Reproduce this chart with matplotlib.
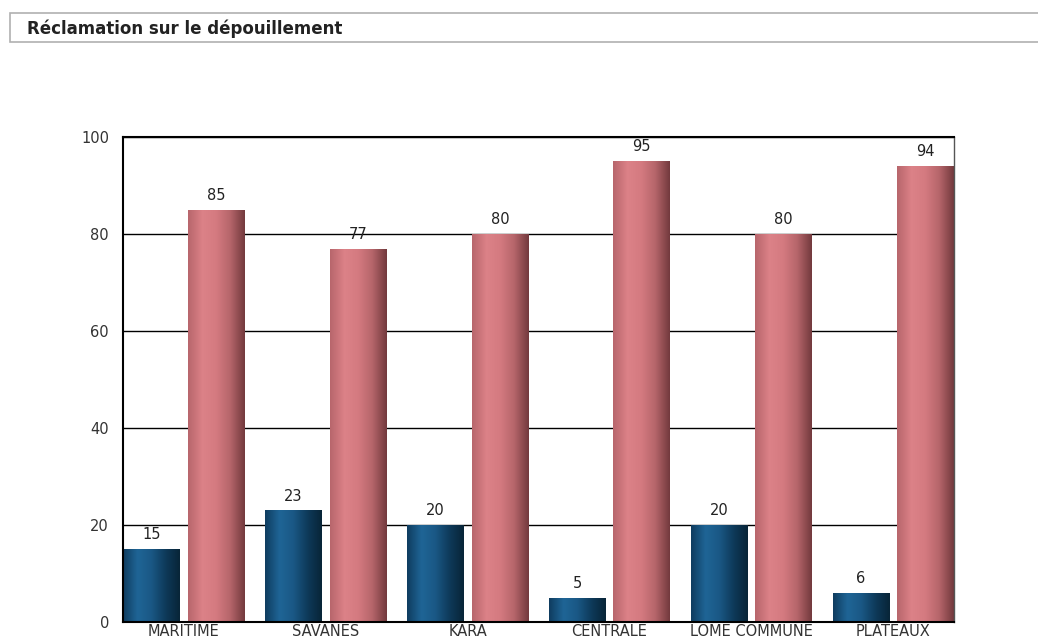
import numpy as np
import matplotlib
matplotlib.use('Agg')
import matplotlib.pyplot as plt
from matplotlib.colors import LinearSegmentedColormap
from matplotlib.patches import Rectangle

# data
regions = ['MARITIME', 'SAVANES', 'KARA', 'CENTRALE', 'LOME COMMUNE', 'PLATEAUX']
serie_bleue = [15, 23, 20, 5, 20, 6]
serie_rouge = [85, 77, 80, 95, 80, 94]
titre = 'Réclamation sur le dépouillement'

cm_bleu = LinearSegmentedColormap.from_list('bleu', ['#0f3d60', '#1f6596', '#1a5885', '#0e3a5a', '#082538'])
cm_rouge = LinearSegmentedColormap.from_list('rouge', ['#b8666c', '#dc8288', '#d47a80', '#b5656a', '#743a3e'])

fig = plt.figure(figsize=(10.38, 6.41), dpi=100)
fig.patch.set_facecolor('white')

# title box
fig.patches.append(Rectangle((10/1038, 1-42/641), 1.0, 29/641, transform=fig.transFigure,
                             facecolor='white', edgecolor='#b0b0b0', lw=1.2))
fig.text(27/1038, 1-29/641, titre, fontsize=12, fontweight='bold', color='#222222',
         va='center', ha='left')

ax = fig.add_axes([123/1038, 19/641, 831/1038, 485/641])
x = np.arange(len(regions))
w = 0.40
d = 0.228

def grad_bars(bars, cmap):
    g = np.linspace(0, 1, 64).reshape(1, -1)
    for b in bars:
        x0, y0 = b.get_x(), b.get_y()
        im = ax.imshow(g, cmap=cmap, aspect='auto', extent=[x0, x0 + b.get_width(), y0, y0 + b.get_height()],
                       zorder=2, interpolation='bicubic')
        im.set_clip_path(b)

b1 = ax.bar(x - d, serie_bleue, w, color='#1a5580', zorder=2)
b2 = ax.bar(x + d, serie_rouge, w, color='#d47a80', zorder=2)
grad_bars(b1, cm_bleu)
grad_bars(b2, cm_rouge)

for bars, vals in ((b1, serie_bleue), (b2, serie_rouge)):
    for b, v in zip(bars, vals):
        ax.text(b.get_x() + b.get_width()/2, v + 1.4, str(v), ha='center', va='bottom',
                fontsize=10.5, color='#222222')

ax.set_xlim(-d - w/2, len(regions) - 1 + d + w/2)
ax.set_ylim(0, 100)
ax.set_yticks([0, 20, 40, 60, 80, 100])
ax.set_xticks(x)
ax.set_xticklabels(regions, fontsize=10.5, color='#333333')
ax.tick_params(axis='y', length=0, pad=10, labelsize=10.5, labelcolor='#333333')
ax.tick_params(axis='x', length=0, pad=1.5)
ax.yaxis.grid(True, color='black', lw=1)
ax.set_axisbelow(True)
for s in ['left', 'bottom', 'top']:
    ax.spines[s].set_color('black')
    ax.spines[s].set_linewidth(1.5)
ax.spines['right'].set_color('#555555')
ax.spines['right'].set_linewidth(1)

fig.savefig('out.png', dpi=100)
